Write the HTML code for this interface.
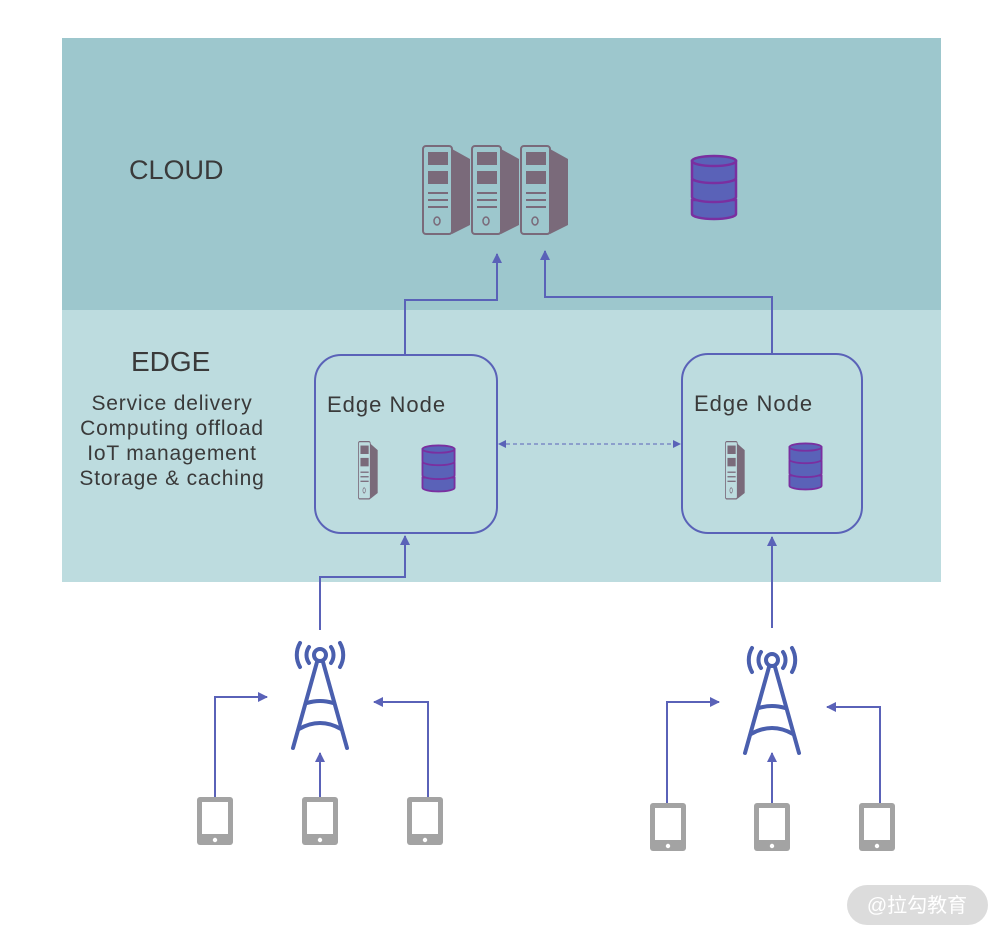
<!DOCTYPE html>
<html><head><meta charset="utf-8"><style>
html,body{margin:0;padding:0;background:#fff;}
svg{display:block;}
text{font-family:"Liberation Sans","Noto Sans CJK SC",sans-serif;fill:#3a3a3a;}
</style></head><body>
<svg width="1001" height="937" viewBox="0 0 1001 937" xmlns="http://www.w3.org/2000/svg">
<defs>
<g id="srv">
  <polygon points="30,4 48,14 48,80 30,89" fill="#7a6a7a"/>
  <rect x="1" y="1" width="29" height="88" rx="3" fill="none" stroke="#7a6a7a" stroke-width="2"/>
  <rect x="6" y="7" width="20" height="13" fill="#7a6a7a"/>
  <rect x="6" y="26" width="20" height="13" fill="#7a6a7a"/>
  <rect x="6" y="47" width="20" height="2" fill="#7a6a7a"/>
  <rect x="6" y="54" width="20" height="2" fill="#7a6a7a"/>
  <rect x="6" y="61" width="20" height="2" fill="#7a6a7a"/>
  <ellipse cx="15" cy="76" rx="3" ry="4" fill="none" stroke="#7a6a7a" stroke-width="1.5"/>
</g>
<g id="db" stroke="#7a2fa0" stroke-width="2.5" fill="#5a62b8">
  <path d="M2,46 v14 a22,5 0 0 0 44,0 v-14 z"/>
  <path d="M2,26 v17 a22,5 0 0 0 44,0 v-17 z"/>
  <path d="M2,7 v17 a22,5 0 0 0 44,0 v-17 z"/>
  <ellipse cx="24" cy="7" rx="22" ry="5"/>
</g>
<g id="phone">
  <rect x="0" y="0" width="36" height="48" rx="3" fill="#a3a3a3"/>
  <rect x="5" y="5" width="26" height="32" fill="#fff"/>
  <circle cx="18" cy="43" r="2.2" fill="#fff"/>
</g>
<g id="tower" fill="none" stroke="#4a5fae" stroke-width="4" stroke-linecap="round">
  <circle cx="0" cy="0" r="6"/>
  <path d="M-11,-8 a14,14 0 0 0 0,16 M11,-8 a14,14 0 0 1 0,16"/>
  <path d="M-20,-12 a24,24 0 0 0 0,24 M20,-12 a24,24 0 0 1 0,24"/>
  <path d="M-3,7 L-27,93 M3,7 L27,93"/>
  <path d="M-13,48 Q0,44 13,48"/>
  <path d="M-21,74 Q0,62 21,74"/>
</g>
<marker id="ah" markerWidth="10" markerHeight="10" refX="9" refY="5" orient="auto" markerUnits="userSpaceOnUse">
  <path d="M0,0 L10,5 L0,10 z" fill="#5a62b8"/>
</marker>
<marker id="ahs" markerWidth="8" markerHeight="8" refX="7" refY="4" orient="auto-start-reverse" markerUnits="userSpaceOnUse">
  <path d="M0,0 L8,4 L0,8 z" fill="#5a62b8"/>
</marker>
</defs>

<rect x="62" y="38" width="879" height="272" fill="#9dc7cd"/>
<rect x="62" y="310" width="879" height="272" fill="#bddcdf"/>

<text x="129" y="179" font-size="27">CLOUD</text>
<text x="131" y="371" font-size="28">EDGE</text>
<g font-size="21" text-anchor="middle" letter-spacing="0.8">
<text x="172" y="410">Service  delivery</text>
<text x="172" y="435">Computing offload</text>
<text x="172" y="460">IoT management</text>
<text x="172" y="485">Storage &amp; caching</text>
</g>

<use href="#srv" x="422" y="145"/>
<use href="#srv" x="471" y="145"/>
<use href="#srv" x="520" y="145"/>
<use href="#db" x="690" y="154"/>

<rect x="315" y="355" width="182" height="178" rx="26" fill="none" stroke="#5a62b8" stroke-width="2"/>
<rect x="682" y="354" width="180" height="179" rx="26" fill="none" stroke="#5a62b8" stroke-width="2"/>
<text x="327" y="412" font-size="22" letter-spacing="1">Edge  Node</text>
<text x="694" y="411" font-size="22" letter-spacing="1">Edge  Node</text>
<g transform="translate(358,441) scale(0.41,0.65)"><use href="#srv"/></g>
<g transform="translate(725,441) scale(0.41,0.65)"><use href="#srv"/></g>
<g transform="translate(421,444) scale(0.73,0.73)"><use href="#db"/></g>
<g transform="translate(788,442) scale(0.73,0.73)"><use href="#db"/></g>

<g fill="none" stroke="#5a62b8" stroke-width="2">
<polyline points="405,354 405,300 497,300 497,254" marker-end="url(#ah)"/>
<polyline points="772,353 772,297 545,297 545,251" marker-end="url(#ah)"/>
<polyline points="320,630 320,577 405,577 405,536" marker-end="url(#ah)"/>
<polyline points="772,628 772,537" marker-end="url(#ah)"/>
<line x1="499" y1="444" x2="680" y2="444" stroke-width="1" stroke-dasharray="4,3" marker-start="url(#ahs)" marker-end="url(#ahs)"/>
<polyline points="215,797 215,697 267,697" marker-end="url(#ah)"/>
<polyline points="320,797 320,753" marker-end="url(#ah)"/>
<polyline points="428,797 428,702 374,702" marker-end="url(#ah)"/>
<polyline points="667,803 667,702 719,702" marker-end="url(#ah)"/>
<polyline points="772,803 772,753" marker-end="url(#ah)"/>
<polyline points="880,803 880,707 827,707" marker-end="url(#ah)"/>
</g>

<use href="#tower" x="320" y="655"/>
<use href="#tower" x="772" y="660"/>

<use href="#phone" x="197" y="797"/>
<use href="#phone" x="302" y="797"/>
<use href="#phone" x="407" y="797"/>
<use href="#phone" x="650" y="803"/>
<use href="#phone" x="754" y="803"/>
<use href="#phone" x="859" y="803"/>

<rect x="847" y="885" width="141" height="40" rx="20" fill="#dcdcdc"/>
<text x="917" y="912" font-size="20" text-anchor="middle" style="fill:#fff">@拉勾教育</text>
</svg>
</body></html>
